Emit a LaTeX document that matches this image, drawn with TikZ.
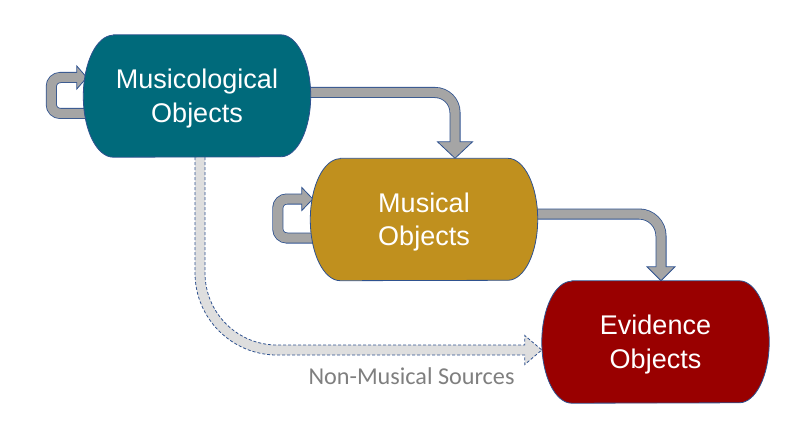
\documentclass[tikz,border=0pt]{standalone}
\usepackage{fontspec}
\setmainfont{Liberation Sans}
\newfontfamily\lblfont{Carlito}
\definecolor{teal1}{HTML}{006A7B}
\definecolor{gold1}{HTML}{C0901E}
\definecolor{red1}{HTML}{990000}
\definecolor{outl}{HTML}{2F528F}
\definecolor{arrg}{HTML}{A5A5A5}
\definecolor{dfill}{HTML}{DEDEDE}
\definecolor{lblg}{HTML}{7F7F7F}
\newcommand\ovalshape[2]{%
  \path[draw=outl, line width=0.8pt, fill=#2]
    ([xshift=30pt]#1.north west) -- ([xshift=-30pt]#1.north east)
    arc[start angle=90, end angle=-90, x radius=30pt, y radius=61pt]
    -- ([xshift=30pt]#1.south west)
    arc[start angle=270, end angle=90, x radius=30pt, y radius=61pt] -- cycle;}
\tikzset{
  holder/.style={rectangle, inner sep=0pt, minimum width=227pt, minimum height=122pt},
  txt/.style={text=white, font=\fontsize{27}{33.5}\selectfont, align=center, inner sep=0pt},
  shaftout/.style={draw=outl, line width=11pt},
  shaftin/.style={draw=arrg, line width=9.4pt},
  headst/.style={fill=arrg, draw=outl, line width=0.8pt, line join=miter},
  lbl/.style={text=lblg, font=\lblfont\fontsize{24.2}{28}\selectfont, inner sep=0pt, anchor=base}
}
\begin{document}
\begin{tikzpicture}[x=1pt, y=-1pt]
\useasboundingbox (0,0) rectangle (802,422);
% shape holders
\node[holder] (mo) at (197,96) {};
\node[holder] (mu) at (424,219.5) {};
\node[holder] (ev) at (655.5,342) {};

% arrow Musicological -> Musical
\coordinate (a1s) at ([xshift=-10pt,yshift=3.5pt]mo.east);
\coordinate (a1t) at ([xshift=31pt]mu.north);
\coordinate (a1b) at ([yshift=16.5pt]a1t);
\draw[shaftout, rounded corners=20pt] (a1s) -| (a1b);
\path[headst] ([xshift=-17.5pt]a1b) -- ([xshift=17.5pt]a1b) -- (a1t) -- cycle;
\draw[shaftin, rounded corners=20pt] (a1s) -| ([yshift=-1pt]a1b);

% arrow Musical -> Evidence
\coordinate (a2s) at ([xshift=-10pt,yshift=5.5pt]mu.east);
\coordinate (a2t) at ([xshift=5.5pt]ev.north);
\coordinate (a2b) at ([yshift=14pt]a2t);
\draw[shaftout, rounded corners=22pt] (a2s) -| (a2b);
\path[headst] ([xshift=-14pt]a2b) -- ([xshift=14pt]a2b) -- (a2t) -- cycle;
\draw[shaftin, rounded corners=22pt] (a2s) -| ([yshift=-1pt]a2b);

% self loop Musicological
\coordinate (l1s) at ([xshift=10pt,yshift=-17.5pt]mo.west);
\coordinate (l1t) at ([xshift=3.5pt,yshift=18.5pt]mo.west);
\coordinate (l1b) at ([xshift=-10pt]l1t);
\draw[shaftout, rounded corners=9pt] (l1s) -- ++(-42pt,0) |- (l1b);
\path[headst] ([yshift=11.5pt]l1b) -- (l1t) -- ([yshift=-11.5pt]l1b) -- cycle;
\draw[shaftin, rounded corners=9pt] (l1s) -- ++(-42pt,0) |- ([xshift=1pt]l1b);

% self loop Musical
\coordinate (l2s) at ([xshift=10pt,yshift=-18.5pt]mu.west);
\coordinate (l2t) at ([xshift=2.5pt,yshift=20.5pt]mu.west);
\coordinate (l2b) at ([xshift=-11pt]l2t);
\draw[shaftout, rounded corners=9pt] (l2s) -- ++(-42.5pt,0) |- (l2b);
\path[headst] ([yshift=11.5pt]l2b) -- (l2t) -- ([yshift=-11.5pt]l2b) -- cycle;
\draw[shaftin, rounded corners=9pt] (l2s) -- ++(-42.5pt,0) |- ([xshift=1pt]l2b);

% dashed arrow Musicological -> Evidence
\coordinate (ds) at ([xshift=3pt]mo.south);
\coordinate (dt) at ([yshift=-8pt]ev.west);
\coordinate (dc) at (ds |- dt);
\path[fill=dfill, draw=outl, line width=0.8pt, dash pattern=on 3pt off 2pt]
  ([xshift=5pt]ds) -- ([xshift=5pt,yshift=77pt]dc)
  arc[start angle=180, end angle=270, radius=72pt]
  -- ([xshift=-17pt,yshift=5pt]dt) -- ([xshift=-17pt,yshift=14.5pt]dt) -- (dt)
  -- ([xshift=-17pt,yshift=-14.5pt]dt) -- ([xshift=-17pt,yshift=-5pt]dt)
  -- ([xshift=77pt,yshift=-5pt]dc)
  arc[start angle=270, end angle=180, radius=82pt]
  -- ([xshift=-5pt]ds);

% boxes
\ovalshape{mo}{teal1}
\ovalshape{mu}{gold1}
\ovalshape{ev}{red1}

% texts
\node[txt] (mo-t) at ([yshift=-2.75pt]mo.center) {Musicological\\Objects};
\node[txt] (mu-t) at ([yshift=-2.75pt]mu.center) {Musical\\Objects};
\node[txt] (ev-t) at ([yshift=-2.75pt]ev.center) {Evidence\\Objects};
\node[lbl] (nms) at (411.5,384) {Non-Musical Sources};
\end{tikzpicture}
\end{document}
